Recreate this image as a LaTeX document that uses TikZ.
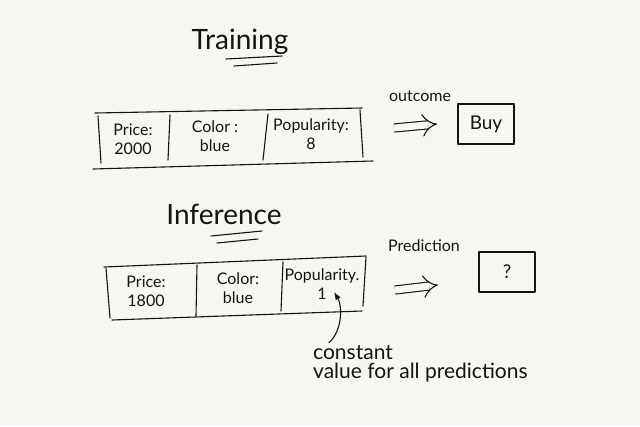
\documentclass[tikz,border=0pt]{standalone}
\usepackage{fontspec}
\setmainfont{Lato}
\usetikzlibrary{arrows.meta,positioning}
\definecolor{PaperBg}{HTML}{F8F6F1}
\definecolor{InkBlack}{HTML}{141414}

\begin{document}
\begin{tikzpicture}[x=1pt,y=-1pt,>=Latex]
\tikzset{ink/.style={draw=InkBlack,line width=1.1pt,line cap=round,line join=round},heading/.style={font=\fontsize{28}{30}\selectfont,text=InkBlack},cell/.style={font=\fontsize{16}{19}\selectfont,text=InkBlack,align=center,inner sep=1pt},note/.style={font=\fontsize{16}{18}\selectfont,text=InkBlack,inner sep=1pt},bignote/.style={font=\fontsize{21}{22}\selectfont,text=InkBlack,inner sep=1pt},result/.style={ink,font=\fontsize{19}{21}\selectfont,text=InkBlack,minimum width=56pt,minimum height=40pt},implies/.style={draw=InkBlack,double=PaperBg,double distance=7pt,line width=1.1pt,-{Implies[scale=1.9]}}}
\fill[PaperBg] (0,0) rectangle (640,426);
\useasboundingbox (0,0) rectangle (640,426);
% training
\node[heading] (train) at (240,42) {Training};
\draw[ink] (226,59) -- (282,56);
\draw[ink] (234,66) -- (277,63);
\draw[ink] (95,113) -- (362,108);
\draw[ink] (93,169) -- (373,161);
\draw[ink] (98,116) -- (101,163);
\draw[ink] (170,115) -- (168,160);
\draw[ink] (268,114) -- (263,160);
\draw[ink] (360,110) -- (363,157);
\node[cell] (tprice) at (133,139) {Price:\\2000};
\node[cell] (tcolor) at (215,136) {Color :\\blue};
\node[cell] (tpop) at (311,134) {Popularity:\\8};
\node[note] (outcome) at (420,96) {outcome};
\coordinate (ta1) at (394,128);
\coordinate (ta2) at (437,124);
\draw[implies] (ta1) -- (ta2);
\node[result] (buy) at (486,124) {Buy};
% inference
\node[heading] (infer) at (224,214) {Inference};
\draw[ink] (211,236) -- (262,231);
\draw[ink] (217,243) -- (258,239);
\draw[ink] (104,267) -- (366,256);
\draw[ink] (112,320) -- (362,311);
\draw[ink] (106,268) -- (110,318);
\draw[ink] (197,265) -- (196,316);
\draw[ink] (283,262) -- (281,311);
\draw[ink] (366,257) -- (363,306);
\node[cell] (iprice) at (146,291) {Price:\\1800};
\node[cell] (icolor) at (238,288) {Color:\\blue};
\node[cell] (ipop) at (322,284) {Popularity.\\1};
\node[note] (predict) at (424,246) {Prediction};
\coordinate (ia1) at (395,290);
\coordinate (ia2) at (438,285);
\draw[implies] (ia1) -- (ia2);
\node[result] (unknown) at (507,272) {?};
% note on the constant value
\node[bignote,anchor=west] (const) at (312,353) {constant};
\node[bignote,anchor=west] (allpred) at (312,373) {value for all predictions};
\draw[ink,->] (const.north west) ++(17,-2) .. controls (343,330) and (342,305) .. (334,292);
\end{tikzpicture}
\end{document}
